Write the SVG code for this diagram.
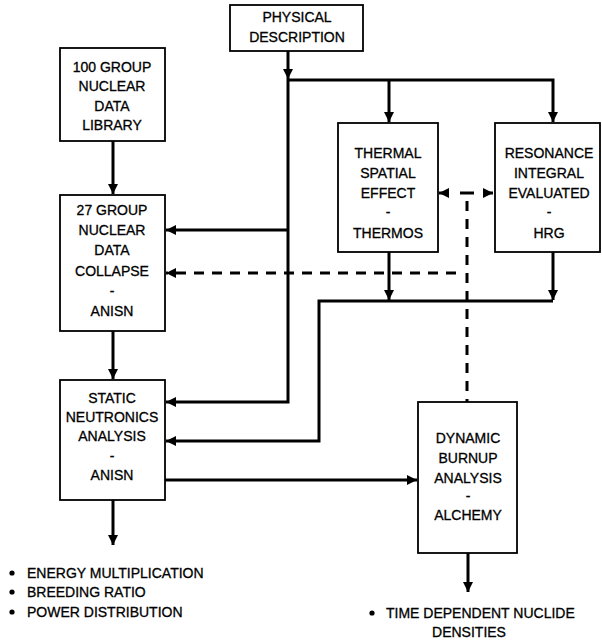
<svg xmlns="http://www.w3.org/2000/svg" width="602" height="640" viewBox="0 0 602 640">
<style>
.box{fill:#fff;stroke:#000;stroke-width:1.8}
.t{font-family:"Liberation Sans",Arial,sans-serif;font-size:14px;fill:#000;stroke:#000;stroke-width:0.3;text-anchor:middle}
.tl{font-family:"Liberation Sans",Arial,sans-serif;font-size:14px;fill:#000;stroke:#000;stroke-width:0.3}
.c{fill:none;stroke:#000;stroke-width:3}
.d{fill:none;stroke:#000;stroke-width:3;stroke-dasharray:10 8}
</style>
<defs>
<marker id="ah" viewBox="0 0 10 10" refX="10" refY="5" markerWidth="10" markerHeight="10" markerUnits="userSpaceOnUse" orient="auto-start-reverse">
<path d="M0,0 L10,5 L0,10 Z" fill="#000"/>
</marker>
</defs>
<rect width="602" height="640" fill="#fff"/>
<g id="connectors">
<path class="c" d="M288 51 V79" marker-end="url(#ah)"/>
<path class="c" d="M288 79 V402 H166" marker-end="url(#ah)"/>
<path class="c" d="M288 80 H553 V122" marker-end="url(#ah)"/>
<path class="c" d="M389 80 V122" marker-end="url(#ah)"/>
<path class="c" d="M288 230 H166" marker-end="url(#ah)"/>
<path class="c" d="M113 141 V194" marker-end="url(#ah)"/>
<path class="c" d="M113 331 V379" marker-end="url(#ah)"/>
<path class="c" d="M389 252 V300" marker-end="url(#ah)"/>
<path class="c" d="M553 252 V300" marker-end="url(#ah)"/>
<path class="c" d="M553 301 H319 V441 H166" marker-end="url(#ah)"/>
<path class="c" d="M165 480 H417" marker-end="url(#ah)"/>
<path class="c" d="M113 500 V545" marker-end="url(#ah)"/>
<path class="c" d="M468 553 V592" marker-end="url(#ah)"/>
<path class="c" d="M439 193 H447" marker-start="url(#ah)"/>
<path class="c" d="M485 193 H493" marker-end="url(#ah)"/>
<path class="c" d="M460 193 H474"/>
<path class="d" d="M467 193 V402" stroke-dashoffset="-8"/>
<path class="d" d="M456 273 H166" marker-end="url(#ah)"/>
</g>
<g id="physical">
<rect class="box" x="230" y="5" width="133" height="46"/>
<text class="t" x="297" y="22">PHYSICAL</text>
<text class="t" x="297" y="42">DESCRIPTION</text>
</g>
<g id="library100">
<rect class="box" x="60" y="48" width="105" height="93"/>
<text class="t" x="112" y="72">100 GROUP</text>
<text class="t" x="112" y="91">NUCLEAR</text>
<text class="t" x="112" y="111">DATA</text>
<text class="t" x="112" y="130">LIBRARY</text>
</g>
<g id="collapse27">
<rect class="box" x="60" y="195" width="105" height="136"/>
<text class="t" x="112" y="215">27 GROUP</text>
<text class="t" x="112" y="235">NUCLEAR</text>
<text class="t" x="112" y="255">DATA</text>
<text class="t" x="112" y="276">COLLAPSE</text>
<text class="t" x="112" y="296">-</text>
<text class="t" x="112" y="316">ANISN</text>
</g>
<g id="thermal">
<rect class="box" x="338" y="123" width="100" height="129"/>
<text class="t" x="388" y="158">THERMAL</text>
<text class="t" x="388" y="178">SPATIAL</text>
<text class="t" x="388" y="198">EFFECT</text>
<text class="t" x="388" y="217">-</text>
<text class="t" x="388" y="238">THERMOS</text>
</g>
<g id="resonance">
<rect class="box" x="495" y="123" width="105" height="129"/>
<text class="t" x="549" y="158">RESONANCE</text>
<text class="t" x="549" y="178">INTEGRAL</text>
<text class="t" x="549" y="198">EVALUATED</text>
<text class="t" x="549" y="217">-</text>
<text class="t" x="549" y="238">HRG</text>
</g>
<g id="static">
<rect class="box" x="60" y="380" width="105" height="120"/>
<text class="t" x="112" y="403">STATIC</text>
<text class="t" x="112" y="422">NEUTRONICS</text>
<text class="t" x="112" y="441">ANALYSIS</text>
<text class="t" x="112" y="461">-</text>
<text class="t" x="112" y="480">ANISN</text>
</g>
<g id="dynamic">
<rect class="box" x="418" y="402" width="99" height="151"/>
<text class="t" x="468" y="443">DYNAMIC</text>
<text class="t" x="468" y="463">BURNUP</text>
<text class="t" x="468" y="483">ANALYSIS</text>
<text class="t" x="468" y="501">-</text>
<text class="t" x="468" y="520">ALCHEMY</text>
</g>
<g id="static-outputs">
<circle cx="12" cy="573" r="2.6"/>
<circle cx="12" cy="592" r="2.6"/>
<circle cx="12" cy="612" r="2.6"/>
<text class="tl" x="27" y="578">ENERGY MULTIPLICATION</text>
<text class="tl" x="27" y="597">BREEDING RATIO</text>
<text class="tl" x="27" y="617">POWER DISTRIBUTION</text>
</g>
<g id="dynamic-outputs">
<circle cx="372" cy="613" r="2.6"/>
<text class="tl" x="386" y="618">TIME DEPENDENT NUCLIDE</text>
<text class="t" x="469" y="637">DENSITIES</text>
</g>
</svg>
